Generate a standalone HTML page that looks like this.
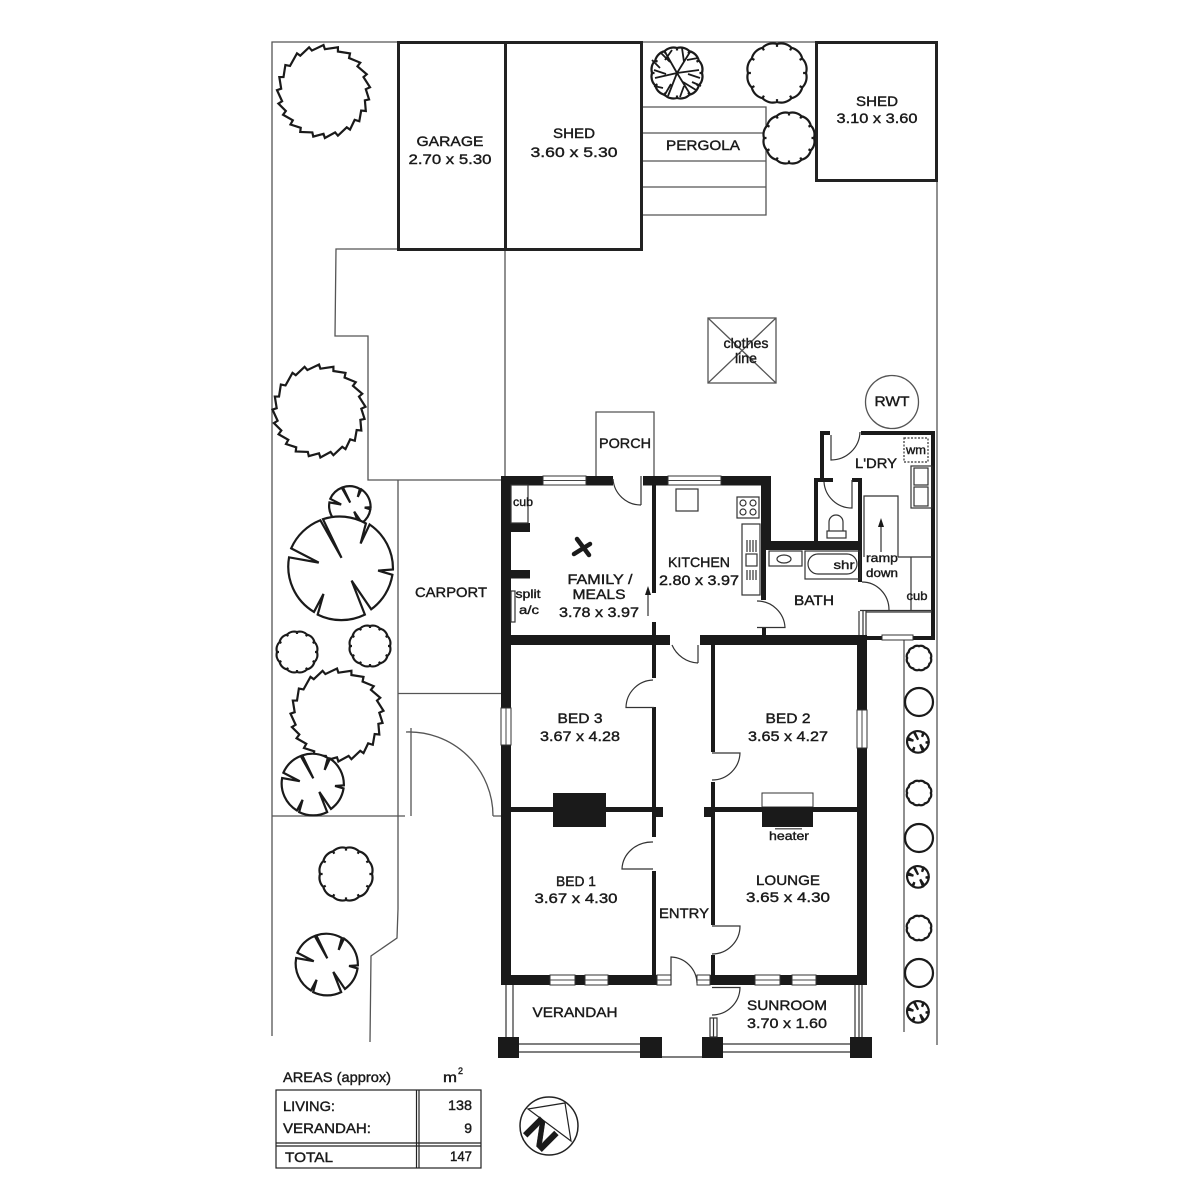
<!DOCTYPE html>
<html><head><meta charset="utf-8"><title>Floor plan</title>
<style>
html,body{margin:0;padding:0;background:#fff}
svg{display:block}
text{font-family:"Liberation Sans",sans-serif;font-size:14px;fill:#1a1a1a;stroke:#1a1a1a;stroke-width:.4;text-anchor:middle}
.s{font-size:12px}
.l{text-anchor:start}
.e{text-anchor:end}
</style></head><body>
<svg xmlns="http://www.w3.org/2000/svg" width="1200" height="1200" viewBox="0 0 1200 1200">
<defs>
<path id="j" vector-effect="non-scaling-stroke" d="M0,-100L3,-91L31,-95L31,-86L57,-82L55,-72L79,-62L73,-54L93,-37L86,-31L100,-9L91,-5L98,17L89,19L91,42L81,41L77,64L67,61L57,82L50,77L31,95L25,88L3,100L0,91L-22,97L-24,88L-50,87L-49,78L-71,71L-66,62L-87,50L-81,42L-97,26L-89,21L-100,-3L-91,-6L-95,-31L-86,-31L-82,-57L-72,-55L-57,-82L-50,-77L-31,-95L-25,-88Z"/>
<path id="c" vector-effect="non-scaling-stroke" d="M100,0A50,50 0 0 1 87,50L78,45L87,50A50,50 0 0 1 50,87L45,78L50,87A50,50 0 0 1 0,100L0,90L0,100A50,50 0 0 1 -50,87L-45,78L-50,87A50,50 0 0 1 -87,50L-78,45L-87,50A50,50 0 0 1 -100,0L-90,0L-100,0A50,50 0 0 1 -87,-50L-78,-45L-87,-50A50,50 0 0 1 -50,-87L-45,-78L-50,-87A50,50 0 0 1 0,-100L0,-90L0,-100A50,50 0 0 1 50,-87L45,-78L50,-87A50,50 0 0 1 87,-50L78,-45L87,-50A50,50 0 0 1 100,0L90,0Z"/>
<path id="n" vector-effect="non-scaling-stroke" d="M-34,-94A100,100 0 0 1 47,-86L37,-48L54,-84A100,100 0 0 1 98,1L70,3L97,11A100,100 0 0 1 57,76L20,22L45,86A100,100 0 0 1 -44,86L-33,47L-51,81A100,100 0 0 1 -98,-22L-42,-12L-94,-39A100,100 0 0 1 -39,-92L1,-21Z"/>
</defs>

<!-- site lines -->
<g fill="none" stroke="#555" stroke-width="1.3">
<path d="M272,1036V42H937V1045"/>
<path d="M505,249V476"/>
<path d="M398,249H336L335,336H368V480H501"/>
<path d="M398,480V909L397,938L371,956L370,1042"/>
<path d="M398,693.500H501"/>
<path d="M272,816H405M493,816H501"/>
<path d="M411,728V816"/>
<path d="M406,732A84,84 0 0 1 493,816"/>
<path d="M904,637V1032"/>
<path d="M642,107H766V215H642M642,133H766M642,161H766M642,187H766"/>
<path d="M596,476V412H654V476"/>
<rect x="708" y="318" width="68" height="65"/>
<path d="M708,318L776,383M776,318L708,383"/>
<circle cx="892" cy="402" r="26.500"/>
</g>
<!-- outbuildings -->
<g fill="#fff" stroke="#222" stroke-width="3">
<rect x="398.500" y="42.500" width="107" height="207"/>
<rect x="505.500" y="42.500" width="136" height="207"/>
<rect x="816.500" y="42.500" width="120" height="138"/>
</g>
<!-- trees -->
<g fill="#fff" stroke="#1a1a1a" stroke-width="2.200" stroke-linejoin="miter">
<use href="#j" transform="translate(323.500,91.500) scale(.465)"/>
<use href="#j" transform="translate(319,411) scale(.465)"/>
<use href="#n" transform="translate(350,507) scale(.21)"/>
<use href="#n" transform="translate(341,569) scale(.53)"/>
<use href="#c" transform="translate(297,652) scale(.2)"/>
<use href="#c" transform="translate(370,646) scale(.2)"/>
<use href="#j" transform="translate(337,715) scale(.465)"/>
<use href="#n" transform="translate(313,785) scale(.315)"/>
<use href="#c" transform="translate(346,874) scale(.26)"/>
<use href="#n" transform="translate(327,965) scale(.315)"/>
<use href="#c" transform="translate(777,73) scale(.29)"/>
<use href="#c" transform="translate(789,138) scale(.25)"/>
<use href="#c" transform="translate(677,73) scale(.25)"/>
<use href="#c" transform="translate(919,658) scale(.12)"/>
<use href="#c" transform="translate(919,793) scale(.12)"/>
<use href="#c" transform="translate(919,928) scale(.12)"/>
<use href="#n" transform="translate(918,742) scale(.11)"/>
<use href="#n" transform="translate(918,877) scale(.11)"/>
<use href="#n" transform="translate(918,1012) scale(.11)"/>
<circle cx="919" cy="702" r="14"/><circle cx="919" cy="838" r="14"/><circle cx="919" cy="973" r="14"/>
</g>
<g fill="none" stroke="#1a1a1a" stroke-width="1.800">
<path d="M677,73L665,52M677,73L690,52M677,73L655,78M677,73L699,70M677,73L668,96M677,73L690,94M665,60L672,50M660,68L652,60M687,60L698,58M692,82L701,86M663,88L654,86M684,86L680,97M670,62L660,52M684,62L682,48M666,74L654,70M688,74L700,78M671,84L664,96M683,82L696,90"/>
</g>

<!-- black walls -->
<g fill="#1a1a1a">
<rect x="501" y="476" width="10" height="509"/>
<rect x="501" y="476" width="112" height="9.500"/>
<rect x="643" y="476" width="128" height="9.500"/>
<rect x="761" y="476" width="10" height="74"/>
<rect x="761" y="541" width="101" height="9"/>
<rect x="652" y="485" width="4" height="108"/>
<rect x="652" y="622" width="4" height="20"/>
<rect x="501" y="635" width="169" height="10"/>
<rect x="700" y="635" width="167" height="10"/>
<rect x="867" y="636" width="68" height="4"/>
<rect x="761" y="550" width="5" height="50"/>
<rect x="762" y="628" width="4" height="8"/>
<rect x="814" y="478" width="4" height="64"/>
<rect x="814" y="478" width="19" height="4"/>
<rect x="820" y="431" width="4" height="48"/>
<rect x="820" y="431" width="10" height="4"/>
<rect x="852" y="478" width="10" height="4"/>
<rect x="858" y="478" width="4" height="104"/>
<rect x="861" y="431" width="74" height="4"/>
<rect x="931" y="431" width="4" height="209"/>
<rect x="511" y="523" width="19" height="9"/>
<rect x="511" y="570" width="19" height="8.500"/>
<rect x="652" y="645" width="4" height="33"/>
<rect x="652" y="707" width="4" height="130"/>
<rect x="652" y="871" width="4" height="105"/>
<rect x="711" y="645" width="4" height="107"/>
<rect x="711" y="782" width="4" height="143"/>
<rect x="711" y="955" width="4" height="20"/>
<rect x="857" y="645" width="10" height="340"/>
<rect x="511" y="807" width="141" height="5"/>
<rect x="553" y="793" width="53" height="34"/>
<rect x="652" y="807" width="11" height="10"/>
<rect x="704" y="807" width="153" height="5"/>
<rect x="704" y="807" width="11" height="10"/>
<rect x="762" y="793" width="51" height="14" fill="#fff" stroke="#333" stroke-width="1"/>
<rect x="762" y="807" width="51" height="20"/>
<rect x="775" y="828" width="27" height="1.500" fill="#666"/>
<rect x="501" y="975" width="49" height="10"/>
<rect x="575" y="975" width="10" height="10"/>
<rect x="608" y="975" width="49" height="10"/>
<rect x="710" y="975" width="45" height="10"/>
<rect x="780" y="975" width="12" height="10"/>
<rect x="816" y="975" width="51" height="10"/>
<rect x="498" y="1037" width="21" height="21"/>
<rect x="640" y="1037" width="22" height="21"/>
<rect x="702" y="1037" width="21" height="21"/>
<rect x="850" y="1037" width="22" height="21"/>
</g>

<!-- windows -->
<g fill="#fff" stroke="#333" stroke-width="1">
<rect x="543" y="476" width="43" height="9"/>
<rect x="668" y="476" width="53" height="9"/>
<rect x="550" y="975" width="25" height="10"/>
<rect x="585" y="975" width="23" height="10"/>
<rect x="657" y="975" width="14" height="10"/>
<rect x="697" y="975" width="13" height="10"/>
<rect x="755" y="975" width="25" height="10"/>
<rect x="792" y="975" width="24" height="10"/>
<rect x="501" y="708" width="10" height="37"/>
<rect x="857" y="710" width="10" height="38"/>
<rect x="882" y="635" width="31" height="5"/>
</g>
<g stroke="#444" stroke-width="1" fill="none">
<path d="M543,480.500H586M668,480.500H721M550,980H575M585,980H608M657,980H671M697,980H710M755,980H780M792,980H816M506,708V745M862,710V748"/>
</g>

<!-- doors, fixtures -->
<g fill="none" stroke="#333" stroke-width="1.200">
<path d="M613,479A28,28 0 0 0 641,505M641,476V505"/>
<path d="M672,645A30,30 0 0 0 698,663M698,645V663"/>
<path d="M653,680A28,28 0 0 0 626,707.500H654"/>
<path d="M712,753H740A28,28 0 0 1 712,780"/>
<path d="M653,842A30,28 0 0 0 622,869H653"/>
<path d="M712,926H740A28,28 0 0 1 712,954"/>
<path d="M671,985V957A27,27 0 0 1 697,983"/>
<path d="M712,987.500H740A28,28 0 0 1 712,1015"/>
<path d="M757,601A28,28 0 0 1 785,627.500H757"/>
<path d="M862,582A27,28 0 0 1 889,610"/>
<path d="M824,482A28,28 0 0 0 852,508V480"/>
<path d="M831,435V460A29,29 0 0 0 860,432"/>
<rect x="710" y="1018" width="7" height="19"/>
<path d="M713.500,1018V1037"/>
<path d="M519,1044H640M519,1052H640M662,1057H702M723,1044H850M723,1052H850"/>
<path d="M506,985V1037M513,985V1037M855,985V1037M859,985V1037M862,985V1037"/>
<rect x="511" y="485" width="17" height="38"/>
<rect x="511" y="591" width="4" height="31" fill="#fff"/>
<rect x="676" y="489" width="22" height="22"/>
<rect x="737" y="497" width="22" height="21"/>
<circle cx="743" cy="503" r="3"/><circle cx="753" cy="503" r="3"/><circle cx="743" cy="512" r="3"/><circle cx="753" cy="512" r="3"/>
<rect x="742" y="524" width="18" height="71"/>
<rect x="746" y="554" width="11" height="12"/>
<path d="M747,540V552M750,540V552M753,540V552M756,540V552M747,570V580M750,570V580M753,570V580M756,570V580"/>
<rect x="769" y="551" width="33" height="15"/>
<ellipse cx="784" cy="559" rx="7" ry="4"/>
<rect x="805" y="551" width="55" height="28"/>
<rect x="808" y="554" width="49" height="20" rx="10"/>
<rect x="827" y="531" width="19" height="7"/>
<path d="M829,531V522A7,7 0 0 1 843,522V531"/>
<rect x="904" y="438" width="24" height="24" stroke-dasharray="2 1.500"/>
<rect x="911" y="466" width="21" height="42"/>
<rect x="914" y="468" width="14" height="17"/>
<rect x="914" y="487" width="14" height="19"/>
<path d="M864,557V496H898V557M898,557H932M911,557V611M860,610.500H932M866,612H932"/>
<path d="M859,611V635M863,611V635M866,611V635"/>
<path d="M881,552V523M648,616V590"/>
</g>
<path d="M881,518L878,527H884ZM648,586L645,595H651Z" fill="#1a1a1a"/>
<!-- fan -->
<path fill="none" stroke="#1a1a1a" stroke-width="4.500" stroke-linecap="round" transform="translate(582,547)" d="M-5,-8L7,8M8,-3L-8,7"/>

<!-- table -->
<g fill="none" stroke="#222" stroke-width="1.200">
<rect x="276" y="1090" width="205" height="78"/>
<path d="M416.500,1090V1168M419,1090V1168M276,1143H481M276,1146H481"/>
<circle cx="549" cy="1126" r="29" stroke-width="1.500"/>
<path d="M528,1109L565,1103L571,1141Z"/>
</g>

<!-- labels -->
<text x="450" y="146" textLength="67" lengthAdjust="spacingAndGlyphs">GARAGE</text>
<text x="450" y="164" textLength="83" lengthAdjust="spacingAndGlyphs">2.70 x 5.30</text>
<text x="574" y="138" textLength="42" lengthAdjust="spacingAndGlyphs">SHED</text>
<text x="574" y="157" textLength="87" lengthAdjust="spacingAndGlyphs">3.60 x 5.30</text>
<text x="703" y="150" textLength="74" lengthAdjust="spacingAndGlyphs">PERGOLA</text>
<text x="877" y="106" textLength="42" lengthAdjust="spacingAndGlyphs">SHED</text>
<text x="877" y="123" textLength="81" lengthAdjust="spacingAndGlyphs">3.10 x 3.60</text>
<text x="746" y="348" textLength="45" lengthAdjust="spacingAndGlyphs">clothes</text>
<text x="746" y="363" textLength="22" lengthAdjust="spacingAndGlyphs">line</text>
<text x="892" y="406" textLength="35" lengthAdjust="spacingAndGlyphs">RWT</text>
<text x="625" y="448" textLength="52" lengthAdjust="spacingAndGlyphs">PORCH</text>
<text x="876" y="468" textLength="42" lengthAdjust="spacingAndGlyphs">L'DRY</text>
<text class="s" x="916" y="454" textLength="20" lengthAdjust="spacingAndGlyphs">wm</text>
<text class="s" x="523" y="506" textLength="20" lengthAdjust="spacingAndGlyphs">cub</text>
<text x="451" y="597" textLength="72" lengthAdjust="spacingAndGlyphs">CARPORT</text>
<text x="699" y="567" textLength="62" lengthAdjust="spacingAndGlyphs">KITCHEN</text>
<text x="699" y="585" textLength="80" lengthAdjust="spacingAndGlyphs">2.80 x 3.97</text>
<text x="600" y="584" textLength="65" lengthAdjust="spacingAndGlyphs">FAMILY /</text>
<text x="599" y="599" textLength="53" lengthAdjust="spacingAndGlyphs">MEALS</text>
<text x="599" y="617" textLength="80" lengthAdjust="spacingAndGlyphs">3.78 x 3.97</text>
<text class="s" x="528" y="598" textLength="25" lengthAdjust="spacingAndGlyphs">split</text>
<text class="s" x="529" y="614" textLength="20" lengthAdjust="spacingAndGlyphs">a/c</text>
<text class="s" x="844" y="569" textLength="21" lengthAdjust="spacingAndGlyphs">shr</text>
<text class="s" x="882" y="562" textLength="32" lengthAdjust="spacingAndGlyphs">ramp</text>
<text class="s" x="882" y="577" textLength="32" lengthAdjust="spacingAndGlyphs">down</text>
<text class="s" x="917" y="600" textLength="21" lengthAdjust="spacingAndGlyphs">cub</text>
<text x="814" y="605" textLength="40" lengthAdjust="spacingAndGlyphs">BATH</text>
<text x="580" y="723" textLength="45" lengthAdjust="spacingAndGlyphs">BED 3</text>
<text x="580" y="741" textLength="80" lengthAdjust="spacingAndGlyphs">3.67 x 4.28</text>
<text x="788" y="723" textLength="45" lengthAdjust="spacingAndGlyphs">BED 2</text>
<text x="788" y="741" textLength="80" lengthAdjust="spacingAndGlyphs">3.65 x 4.27</text>
<text class="s" x="789" y="840" textLength="40" lengthAdjust="spacingAndGlyphs">heater</text>
<text x="576" y="886" textLength="40" lengthAdjust="spacingAndGlyphs">BED 1</text>
<text x="576" y="903" textLength="83" lengthAdjust="spacingAndGlyphs">3.67 x 4.30</text>
<text x="788" y="885" textLength="64" lengthAdjust="spacingAndGlyphs">LOUNGE</text>
<text x="788" y="902" textLength="84" lengthAdjust="spacingAndGlyphs">3.65 x 4.30</text>
<text x="684" y="918" textLength="50" lengthAdjust="spacingAndGlyphs">ENTRY</text>
<text x="575" y="1017" textLength="85" lengthAdjust="spacingAndGlyphs">VERANDAH</text>
<text x="787" y="1010" textLength="80" lengthAdjust="spacingAndGlyphs">SUNROOM</text>
<text x="787" y="1028" textLength="80" lengthAdjust="spacingAndGlyphs">3.70 x 1.60</text>
<text class="l" x="283" y="1082" textLength="108" lengthAdjust="spacingAndGlyphs">AREAS (approx)</text>
<text class="l" x="443" y="1082" textLength="14" lengthAdjust="spacingAndGlyphs">m</text>
<text class="l" x="458" y="1074" style="font-size:9px">2</text>
<text class="l" x="283" y="1111" textLength="52" lengthAdjust="spacingAndGlyphs">LIVING:</text>
<text class="l" x="283" y="1133" textLength="88" lengthAdjust="spacingAndGlyphs">VERANDAH:</text>
<text class="l" x="285" y="1162" textLength="48" lengthAdjust="spacingAndGlyphs">TOTAL</text>
<text class="e" x="472" y="1110" textLength="24" lengthAdjust="spacingAndGlyphs">138</text>
<text class="e" x="472" y="1133">9</text>
<text class="e" x="472" y="1161" textLength="22" lengthAdjust="spacingAndGlyphs">147</text>
<text transform="translate(541,1134) rotate(45)" x="0" y="12" textLength="32" lengthAdjust="spacingAndGlyphs" style="font-size:34px;font-weight:bold">N</text>
</svg>
</body></html>
